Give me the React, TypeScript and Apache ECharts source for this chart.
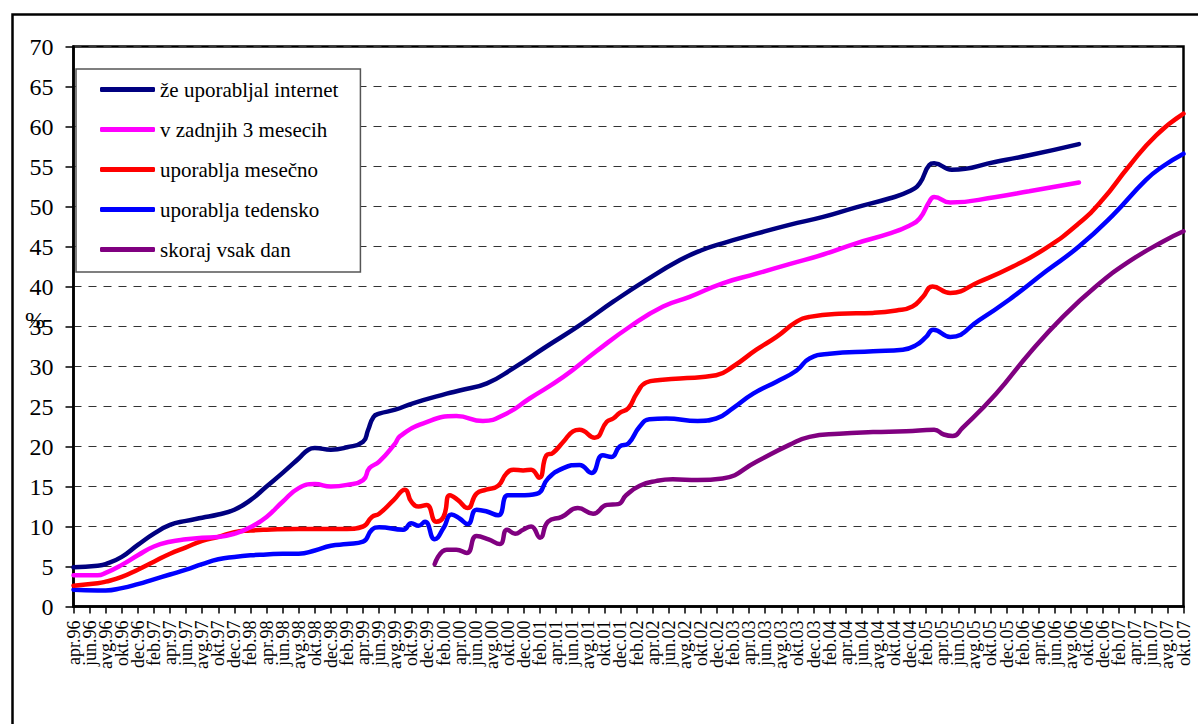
import React, { useEffect, useRef } from "react";
import * as echarts from "echarts";

// Tick labels (one every two months, apr.96 .. okt.07); data x values are month indices from apr.96
const monthLabels = [
  "apr.96","jun.96","avg.96","okt.96","dec.96",
  "feb.97","apr.97","jun.97","avg.97","okt.97","dec.97",
  "feb.98","apr.98","jun.98","avg.98","okt.98","dec.98",
  "feb.99","apr.99","jun.99","avg.99","okt.99","dec.99",
  "feb.00","apr.00","jun.00","avg.00","okt.00","dec.00",
  "feb.01","apr.01","jun.01","avg.01","okt.01","dec.01",
  "feb.02","apr.02","jun.02","avg.02","okt.02","dec.02",
  "feb.03","apr.03","jun.03","avg.03","okt.03","dec.03",
  "feb.04","apr.04","jun.04","avg.04","okt.04","dec.04",
  "feb.05","apr.05","jun.05","avg.05","okt.05","dec.05",
  "feb.06","apr.06","jun.06","avg.06","okt.06","dec.06",
  "feb.07","apr.07","jun.07","avg.07","okt.07",
];

const seriesNames = [
  "že uporabljal internet",
  "v zadnjih 3 mesecih",
  "uporablja mesečno",
  "uporablja tedensko",
  "skoraj vsak dan",
];

const seriesColors = ["#000080", "#FF00FF", "#FF0000", "#0000FF", "#800080"];

// [month index, %]
const everUsed: [number, number][] = [
  [0, 4.9], [3, 5.1], [4, 5.3], [6, 6.2], [8, 7.7], [10, 9.1], [12, 10.2], [14, 10.7],
  [16, 11.1], [18, 11.5], [20, 12.1], [22, 13.3], [24, 15.0], [26, 16.7], [28, 18.5],
  [29.2, 19.6], [30, 19.8], [32, 19.6], [34, 19.9], [36, 20.6], [36.6, 22.0], [37.3, 23.7],
  [38, 24.1], [40, 24.6], [42.2, 25.4], [46.4, 26.6], [48, 27.0], [51.4, 27.9], [54.7, 29.8],
  [58.8, 32.5], [63, 35.2], [67.1, 38.1], [71.2, 40.8], [75.4, 43.3], [78, 44.5],
  [80.7, 45.4], [84.9, 46.6], [89, 47.7], [93.2, 48.7], [97.3, 49.9], [101.4, 51.0],
  [103.9, 51.9], [105.2, 52.9], [106.4, 55.2], [107, 55.4], [109.2, 54.6], [114.7, 55.6],
  [118.8, 56.4], [125, 57.8],
];

const last3Months: [number, number][] = [
  [0, 3.9], [3, 3.9], [4, 4.2], [6, 5.2], [8, 6.4], [10, 7.5], [12, 8.1], [14, 8.4],
  [16, 8.6], [18, 8.7], [20, 9.1], [22, 9.9], [24, 11.2], [26, 13.1], [28, 14.8],
  [30, 15.3], [32, 15.0], [34, 15.2], [36, 15.8], [36.8, 17.3], [38, 18.1], [40, 20.4],
  [40.6, 21.3], [43.5, 22.9], [47.6, 23.8], [50.9, 23.2], [53.8, 24.1], [56.7, 26.0],
  [60.9, 28.7], [65, 31.9], [69.2, 35.0], [73.3, 37.5], [76.6, 38.7], [80.7, 40.4],
  [84.9, 41.6], [89, 42.8], [93.2, 44.0], [97.3, 45.4], [101.4, 46.6], [103.9, 47.6],
  [105.2, 48.5], [106.4, 50.6], [107, 51.2], [109, 50.5], [114.7, 51.2], [118.8, 51.9],
  [125, 53.0],
];

const monthly: [number, number][] = [
  [0, 2.6], [3, 2.9], [4, 3.1], [6, 3.7], [8, 4.6], [10, 5.6], [12, 6.6], [14, 7.4],
  [16, 8.2], [18, 8.7], [20, 9.3], [22, 9.5], [24, 9.6], [28, 9.7], [34, 9.7], [36, 10.0],
  [37.1, 11.2], [38, 11.6], [39.8, 13.3], [41.2, 14.6], [42, 13.1], [42.9, 12.5],
  [43.9, 12.7], [45.1, 10.6], [46, 11.2], [46.8, 13.9], [47.8, 13.3], [49, 12.3],
  [50.1, 14.1], [51.3, 14.6], [52.8, 15.1], [53.8, 16.6], [54.7, 17.1], [55.9, 17.0],
  [56.9, 17.1], [57.9, 16.1], [58.8, 18.9], [59.6, 19.2], [60.9, 20.6], [62.1, 21.9],
  [62.9, 22.1], [64.8, 21.1], [66.3, 23.1], [67.1, 23.5], [67.9, 24.2], [69, 24.8],
  [70, 26.6], [71.2, 28.0], [72.9, 28.3], [75.4, 28.5], [79.9, 28.9], [82, 30.0],
  [84.9, 32.1], [87.4, 33.7], [89.9, 35.6], [91.5, 36.2], [95.2, 36.6], [99.4, 36.7],
  [102.3, 37.0], [104.3, 37.5], [105.6, 38.7], [106.8, 40.0], [109, 39.2], [112.6, 40.6],
  [116.8, 42.5], [120.9, 44.8], [125, 47.9], [127.9, 50.8], [131.2, 55.0], [134.6, 58.9],
  [138, 61.6],
];

const weekly: [number, number][] = [
  [0, 2.1], [3, 2.0], [4, 2.0], [6, 2.3], [8, 2.8], [10, 3.4], [12, 4.0], [14, 4.6],
  [16, 5.3], [18, 5.9], [20, 6.2], [22, 6.4], [24, 6.5], [26, 6.6], [28, 6.6], [30, 7.0],
  [32, 7.6], [34, 7.8], [36, 8.1], [37.1, 9.6], [38, 9.9], [41, 9.6], [42, 10.4],
  [42.9, 10.1], [43.7, 10.6], [44.9, 8.4], [46, 9.8], [47, 11.5], [48, 11.0], [49, 10.3],
  [50.1, 12.1], [51.3, 11.9], [52.8, 11.4], [54, 13.9], [55.5, 13.9], [57.6, 14.1],
  [59, 16.0], [60.9, 17.3], [62.9, 17.7], [64.4, 16.7], [65.8, 18.9], [66.9, 18.7],
  [67.9, 20.0], [69, 20.4], [70.4, 22.5], [71.6, 23.4], [73.7, 23.5], [77.6, 23.2],
  [79.9, 23.5], [82, 24.8], [84.5, 26.6], [87.4, 28.1], [89.9, 29.5], [91.5, 31.0],
  [94, 31.6], [99.4, 31.9], [103.1, 32.1], [104.8, 32.7], [106, 33.7], [106.9, 34.6],
  [109, 33.7], [112.6, 35.8], [116.8, 38.7], [120.9, 41.9], [125, 45.0], [129.2, 48.9],
  [133.3, 53.3], [135.4, 55.0], [138, 56.6],
];

const daily: [number, number][] = [
  [44.9, 5.3], [46.4, 7.1], [47.6, 7.1], [48.9, 6.7], [50.1, 8.8], [51.6, 8.4], [53, 7.8],
  [53.9, 9.6], [54.9, 9.1], [55.9, 9.6], [56.9, 10.0], [58, 8.6], [59, 10.6], [60.7, 11.2],
  [62.7, 12.3], [64.6, 11.6], [66.3, 12.7], [67.7, 12.8], [68.7, 13.9], [70.4, 15.1],
  [72.5, 15.7], [74.5, 15.9], [77.6, 15.8], [80.7, 16.0], [84.9, 18.1], [89, 20.2],
  [91.5, 21.2], [95.2, 21.6], [99.4, 21.8], [103.5, 21.9], [107, 22.1], [108.2, 21.5],
  [109.3, 21.3], [110.5, 22.3], [114.7, 26.6], [118.8, 31.6], [123, 36.2], [127.1, 40.0],
  [131.2, 43.1], [135.4, 45.6], [138, 46.9],
];

const allSeries = [everUsed, last3Months, monthly, weekly, daily];

const yTicks = { min: 0, max: 70, interval: 5 };
const xRange = { min: 0, max: 138 };

const SERIF = "Liberation Serif";

export default function App() {
  const ref = useRef<HTMLDivElement>(null);

  useEffect(() => {
    if (!ref.current) return;
    const chart = echarts.init(ref.current, undefined, { renderer: "svg" });
    chart.setOption({
      animation: false,
      backgroundColor: "#ffffff",
      textStyle: { fontFamily: SERIF },
      grid: {
        left: 73.5,
        top: 46.5,
        right: 14.5,
        bottom: 117.5,
        show: true,
        borderColor: "#000",
        borderWidth: 2.5,
        backgroundColor: "transparent",
      },
      legend: {
        orient: "vertical",
        left: 76,
        top: 69,
        padding: [10, 22, 12, 24],
        itemGap: 19,
        itemWidth: 55,
        itemHeight: 5,
        icon: "roundRect",
        borderColor: "#555",
        borderWidth: 1.5,
        backgroundColor: "#fff",
        textStyle: { fontFamily: SERIF, fontSize: 21, color: "#000" },
        data: seriesNames,
      },
      xAxis: [
        {
          type: "value",
          min: xRange.min,
          max: xRange.max,
          axisLine: { show: true, lineStyle: { color: "#000", width: 2.5 } },
          axisTick: { show: false },
          axisLabel: { show: false },
          splitLine: { show: false },
        },
        {
          type: "category",
          data: monthLabels,
          boundaryGap: false,
          position: "bottom",
          axisLine: { show: false },
          axisTick: { show: true, interval: 0, length: 7, lineStyle: { color: "#000", width: 1.5 } },
          splitLine: { show: false },
          axisLabel: {
            interval: 0,
            rotate: 90,
            margin: 14,
            fontFamily: SERIF,
            fontSize: 18,
            color: "#000",
          },
        },
      ],
      yAxis: {
        type: "value",
        min: yTicks.min,
        max: yTicks.max,
        interval: yTicks.interval,
        axisLine: { show: true, lineStyle: { color: "#000", width: 2.5 } },
        axisTick: { show: true, length: 8, lineStyle: { color: "#000", width: 1.5 } },
        splitLine: {
          show: true,
          lineStyle: { color: "#333", width: 1.2, type: [8, 7] },
        },
        axisLabel: {
          margin: 20,
          fontFamily: SERIF,
          fontSize: 24,
          color: "#000",
        },
      },
      graphic: [
        {
          type: "rect",
          left: 10,
          top: 12,
          shape: { x: 0, y: 0, width: 1300, height: 800 },
          style: { fill: "none", stroke: "#000", lineWidth: 2.5 },
          silent: true,
          z: -10,
        },
        {
          type: "text",
          left: 25,
          top: 308,
          style: { text: "%", fontFamily: SERIF, fontSize: 24, fill: "#000" },
          silent: true,
        },
      ],
      series: allSeries.map((data, i) => ({
        name: seriesNames[i],
        type: "line",
        xAxisIndex: 0,
        data,
        smooth: 0.5,
        symbol: "none",
        showSymbol: false,
        color: seriesColors[i],
        lineStyle: { color: seriesColors[i], width: 4.5, cap: "round", join: "round" },
        z: 10 - i,
      })),
    });
    return () => chart.dispose();
  }, []);

  return (
    <div
      ref={ref}
      style={{ position: "absolute", left: 0, top: 0, width: 1198, height: 724 }}
    />
  );
}
